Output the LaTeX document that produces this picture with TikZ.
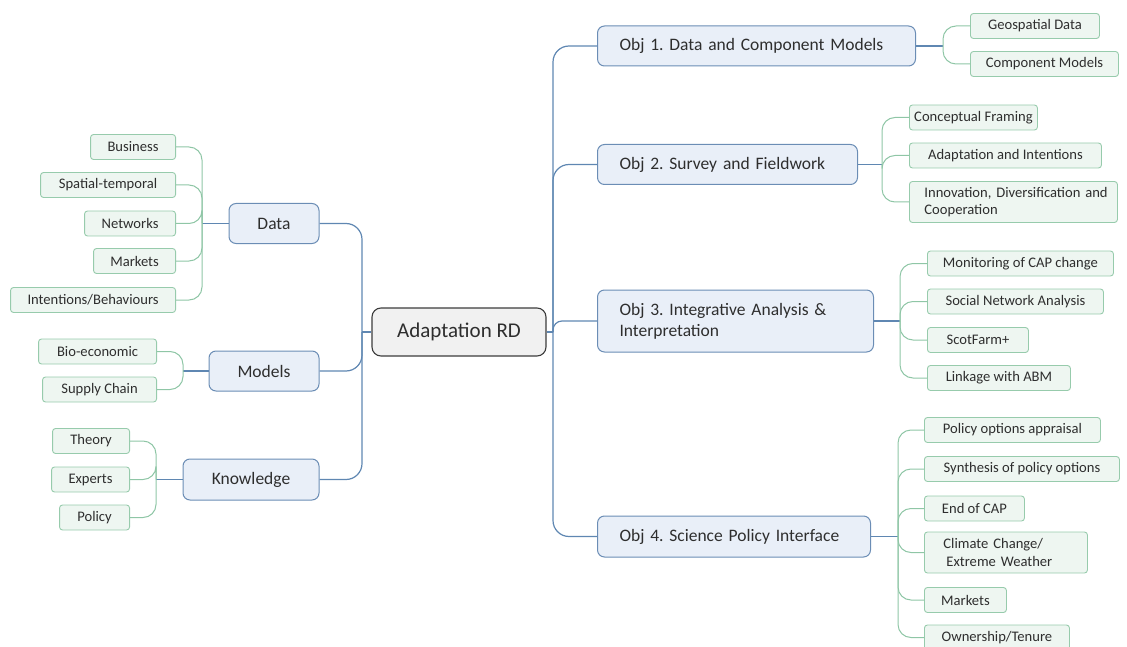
\documentclass[tikz,border=0pt]{standalone}
\usepackage{fontspec}
\setmainfont{Carlito}
\frenchspacing
\definecolor{txt}{HTML}{2E2E2E}
\definecolor{topicline}{HTML}{6B8DB5}
\definecolor{topicfill}{HTML}{E9EFF8}
\definecolor{leafline}{HTML}{97CBAC}
\definecolor{leaffill}{HTML}{EEF6F1}
\definecolor{rootline}{HTML}{3C3C3C}
\definecolor{rootfill}{HTML}{F1F1F1}
\definecolor{mainlink}{HTML}{5F87B2}
\definecolor{leaflink}{HTML}{8FC6A6}
\begin{document}
\begin{tikzpicture}[x=1pt,y=-1pt,
  root/.style={draw=rootline, fill=rootfill, rounded corners=9pt, line width=1.1pt,
    text=txt, font=\fontsize{21}{25}\selectfont, minimum width=174pt, minimum height=48pt},
  topic/.style={draw=topicline, fill=topicfill, rounded corners=7pt, line width=1pt,
    text=txt, font=\fontsize{17.5}{21}\selectfont, minimum height=40pt,
    inner xsep=14pt, inner ysep=0pt},
  objbox/.style={topic, align=left, inner xsep=22pt},
  leaf/.style={draw=leafline, fill=leaffill, rounded corners=3pt, line width=0.9pt,
    text=txt, font=\fontsize{14.6}{17.5}\selectfont, minimum height=25pt,
    inner xsep=3pt, inner ysep=0pt},
  mlink/.style={draw=mainlink, line width=1.2pt, rounded corners=16pt},
  llink/.style={draw=leaflink, line width=1pt, rounded corners=13pt},
]
\useasboundingbox (0,0) rectangle (1127,647);

% central topic
\node[root] (rd) at (459,332) {Adaptation RD};

% left main topics
\node[topic, minimum width=90pt]  (data) at (274,223.5) {Data};
\node[topic, minimum width=110pt] (models) at (264,371) {Models};
\node[topic, minimum width=136pt, minimum height=41pt] (know) at (251,479.5) {Knowledge};

% Data leaves
\node[leaf, anchor=east, minimum width=85pt]  (biz) at (176,147) {Business};
\node[leaf, anchor=east, minimum width=135pt] (spt) at (176,185) {Spatial-temporal};
\node[leaf, anchor=east, minimum width=91pt]  (net) at (176,223.5) {Networks};
\node[leaf, anchor=east, minimum width=82pt]  (mkt) at (176,261) {Markets};
\node[leaf, anchor=east, minimum width=165pt] (ibh) at (176,300) {Intentions/Behaviours};

% Models leaves
\node[leaf, anchor=east, minimum width=118pt] (bio) at (157,351.5) {Bio-economic};
\node[leaf, anchor=east, minimum width=114pt] (sup) at (157,389.5) {Supply Chain};

% Knowledge leaves
\node[leaf, anchor=east, minimum width=77pt] (thy) at (130,441) {Theory};
\node[leaf, anchor=east, minimum width=78pt] (exp) at (130,479.5) {Experts};
\node[leaf, anchor=east, minimum width=70pt] (pol) at (130,517.5) {Policy};

% right main topics
\node[objbox, anchor=west, text width=274pt] (o1) at (597,46)
  {\mbox{Obj 1. Data and Component Models}};
\node[objbox, anchor=west, text width=216pt] (o2) at (597,164.5)
  {\mbox{Obj 2. Survey and Fieldwork}};
\node[objbox, anchor=west, text width=232pt, minimum height=62pt] (o3) at (597,321)
  {\mbox{Obj 3. Integrative Analysis \&}\\\mbox{Interpretation}};
\node[objbox, anchor=west, text width=229pt, minimum height=41pt] (o4) at (597,536.5)
  {\mbox{Obj 4. Science Policy Interface}};

% Obj 1 leaves
\node[leaf, anchor=west, minimum width=129pt] (geo) at (970,26) {Geospatial Data};
\node[leaf, anchor=west, minimum width=148pt] (cmp) at (970,64) {Component Models};

% Obj 2 leaves
\node[leaf, anchor=west, minimum width=128pt] (cfr) at (909,117.5) {Conceptual Framing};
\node[leaf, anchor=west, minimum width=192pt] (adi) at (909,155.5) {Adaptation and Intentions};
\node[leaf, anchor=west, text width=178pt, align=left, inner xsep=15pt, minimum height=41pt]
  (idc) at (909,202) {\mbox{Innovation, Diversification and}\\Cooperation};

% Obj 3 leaves
\node[leaf, anchor=west, minimum width=186pt] (mon) at (927,263.5) {Monitoring of CAP change};
\node[leaf, anchor=west, minimum width=176pt] (sna) at (927,301.5) {Social Network Analysis};
\node[leaf, anchor=west, minimum width=101pt] (scf) at (927,340) {ScotFarm+};
\node[leaf, anchor=west, minimum width=143pt] (abm) at (927,378) {Linkage with ABM};

% Obj 4 leaves
\node[leaf, anchor=west, minimum width=176pt] (poa) at (924,430) {Policy options appraisal};
\node[leaf, anchor=west, minimum width=195pt] (syn) at (924,469) {Synthesis of policy options};
\node[leaf, anchor=west, minimum width=100pt] (eoc) at (924,508.5) {End of CAP};
\node[leaf, anchor=west, text width=131pt, align=left, inner xsep=16pt, minimum height=41pt]
  (ccw) at (924,552.5) {\mbox{\hspace{3pt}Climate Change/}\\\mbox{\hspace{6pt}Extreme Weather}};
\node[leaf, anchor=west, minimum width=82pt]  (mk2) at (924,600) {Markets};
\node[leaf, anchor=west, minimum width=145pt] (own) at (924,637.5) {Ownership/Tenure};

% junctions
\coordinate (lj) at (362,332);
\coordinate (rj) at (553,332);
\coordinate (dj) at (202,223.5);
\coordinate (mj) at (183,371);
\coordinate (kj) at (156,479.5);
\coordinate (j1) at (943,46);
\coordinate (j2) at (882,164.5);
\coordinate (j3) at (900,321);
\coordinate (j4) at (898,536.5);

% main branches
\draw[mlink] (data.east) -| (lj);
\draw[mlink] (models.east) -| (lj);
\draw[mlink] (know.east) -| (lj);
\draw[mlink] (lj) -- (rd.west);
\draw[mlink] (rd.east) -- (rj);
\draw[mlink] (rj) |- (o1.west);
\draw[mlink] (rj) |- (o2.west);
\draw[mlink, rounded corners=9pt] (rj) |- (o3.west);
\draw[mlink] (rj) |- (o4.west);

% topic to junction stubs
\draw[mlink] (dj) -- (data.west);
\draw[mlink] (mj) -- (models.west);
\draw[mlink] (kj) -- (know.west);
\draw[mlink] (o1.east) -- (j1);
\draw[mlink] (o2.east) -- (j2);
\draw[mlink] (o3.east) -- (j3);
\draw[mlink] (o4.east) -- (j4);

% leaf brackets
\foreach \l in {biz,spt,net,mkt,ibh} \draw[llink] (\l.east) -| (dj);
\foreach \l in {bio,sup} \draw[llink] (\l.east) -| (mj);
\foreach \l in {thy,exp,pol} \draw[llink] (\l.east) -| (kj);
\foreach \l in {geo,cmp} \draw[llink] (j1) |- (\l.west);
\foreach \l in {cfr,adi,idc} \draw[llink] (j2) |- (\l.west);
\foreach \l in {mon,sna,scf,abm} \draw[llink] (j3) |- (\l.west);
\foreach \l in {poa,syn,eoc,ccw,mk2,own} \draw[llink] (j4) |- (\l.west);
\end{tikzpicture}
\end{document}
